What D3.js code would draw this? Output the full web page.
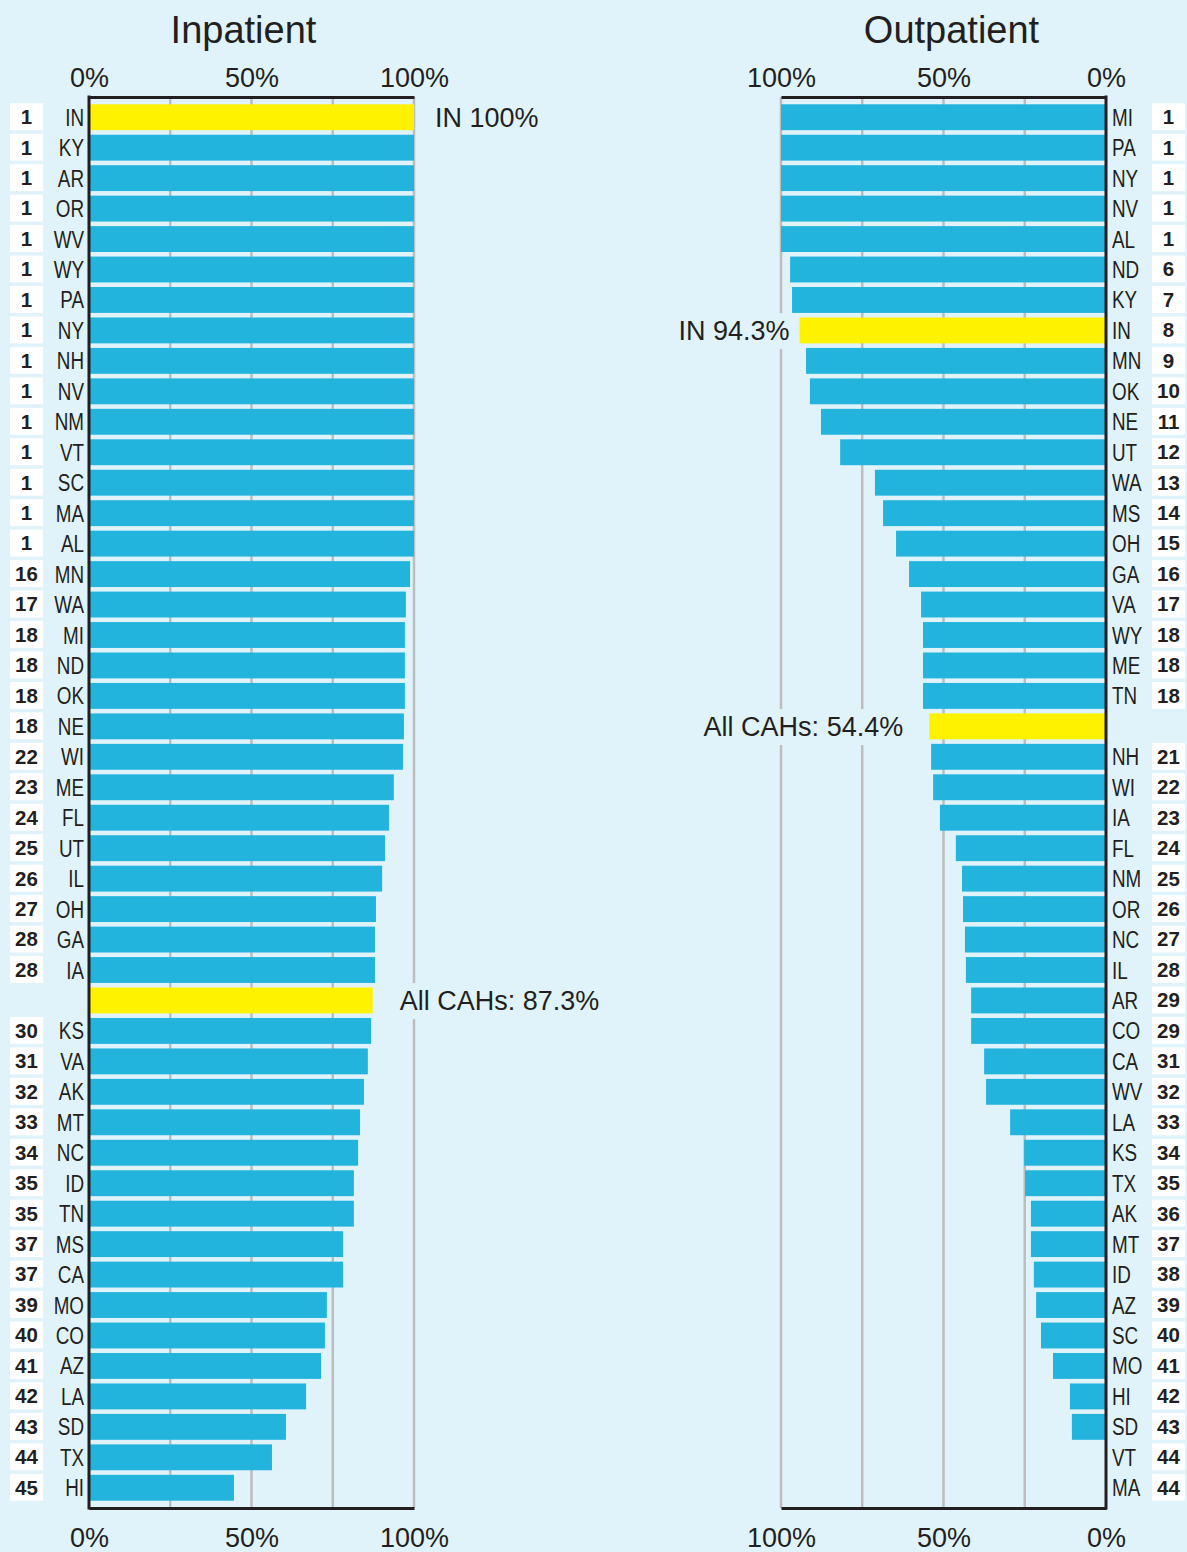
<!DOCTYPE html>
<html>
<head>
<meta charset="utf-8">
<script src="https://cdn.jsdelivr.net/npm/d3@7"></script>
<style>
  html, body { margin: 0; padding: 0; background: #e0f3fa; }
  svg { display: block; }
  .title { font-family: "Liberation Sans", Arial, sans-serif; font-size: 38px; fill: #231f20; }
  .tick text { font-family: "Liberation Sans", Arial, sans-serif; font-size: 27px; fill: #231f20; }
  .state { font-family: "Liberation Sans", Arial, sans-serif; font-size: 23px; fill: #231f20; }
  .rank { font-family: "Liberation Sans", Arial, sans-serif; font-size: 20.5px; font-weight: bold; fill: #231f20; }
  .note { font-family: "Liberation Sans", Arial, sans-serif; font-size: 27px; fill: #231f20; }
</style>
</head>
<body>
<svg width="1187" height="1552"></svg>
<script>
// Inpatient panel
const inStates = [
  "IN", "KY", "AR", "OR", "WV", "WY", "PA", "NY", "NH", "NV", "NM", "VT", "SC", "MA", "AL",
  "MN", "WA", "MI", "ND", "OK", "NE", "WI", "ME", "FL", "UT", "IL", "OH", "GA", "IA",
  "All CAHs",
  "KS", "VA", "AK", "MT", "NC", "ID", "TN", "MS", "CA", "MO", "CO", "AZ", "LA", "SD", "TX", "HI",
];
const inRanks = [
  1, 1, 1, 1, 1, 1, 1, 1, 1, 1, 1, 1, 1, 1, 1,
  16, 17, 18, 18, 18, 18, 22, 23, 24, 25, 26, 27, 28, 28,
  null,
  30, 31, 32, 33, 34, 35, 35, 37, 37, 39, 40, 41, 42, 43, 44, 45,
];
const inValues = [
  100, 100, 100, 100, 100, 100, 100, 100, 100, 100, 100, 100, 100, 100, 100,
  98.8, 97.5, 97.2, 97.2, 97.2, 96.9, 96.6, 93.8, 92.3, 91.1, 90.2, 88.3, 88.0, 88.0,
  87.3,
  86.8, 85.8, 84.6, 83.4, 82.8, 81.5, 81.5, 78.2, 78.2, 73.2, 72.6, 71.4, 66.8, 60.6, 56.3, 44.6,
];
const inHighlight = ["IN", "All CAHs"];
const inNotes = ["IN 100%", "All CAHs: 87.3%"];

// Outpatient panel
const outStates = [
  "MI", "PA", "NY", "NV", "AL", "ND", "KY", "IN", "MN", "OK", "NE", "UT", "WA", "MS", "OH",
  "GA", "VA", "WY", "ME", "TN",
  "All CAHs",
  "NH", "WI", "IA", "FL", "NM", "OR", "NC", "IL", "AR", "CO", "CA", "WV", "LA", "KS", "TX",
  "AK", "MT", "ID", "AZ", "SC", "MO", "HI", "SD", "VT", "MA",
];
const outRanks = [
  1, 1, 1, 1, 1, 6, 7, 8, 9, 10, 11, 12, 13, 14, 15,
  16, 17, 18, 18, 18,
  null,
  21, 22, 23, 24, 25, 26, 27, 28, 29, 29, 31, 32, 33, 34, 35,
  36, 37, 38, 39, 40, 41, 42, 43, 44, 44,
];
const outValues = [
  100, 100, 100, 100, 100, 97.2, 96.6, 94.3, 92.3, 91.1, 87.7, 81.8, 71.1, 68.6, 64.6,
  60.6, 56.9, 56.3, 56.3, 56.3,
  54.4,
  53.8, 53.2, 51.1, 46.2, 44.3, 44.0, 43.4, 43.1, 41.5, 41.5, 37.5, 36.9, 29.5, 25.2, 24.9,
  23.1, 23.1, 22.2, 21.5, 20.0, 16.3, 11.1, 10.5, 0, 0,
];
const outHighlight = ["IN", "All CAHs"];
const outNotes = ["IN 94.3%", "All CAHs: 54.4%"];

const tickLabels = [0, 50, 100];
const gridTicks = [25, 50, 75, 100];

const BLUE = "#23b4de";
const YELLOW = "#fff200";
const BG = "#e0f3fa";
const INK = "#231f20";

const svg = d3.select("svg");
svg.append("rect").attr("width", 1187).attr("height", 1552).attr("fill", BG);

const axisTopY = 97;
const axisBottomY = 1508;

drawPanel({
  title: "Inpatient",
  states: inStates, ranks: inRanks, values: inValues,
  highlight: inHighlight, notes: inNotes,
  xRange: [89, 414], side: "left",
  noteDx: [21, 27],
});

drawPanel({
  title: "Outpatient",
  states: outStates, ranks: outRanks, values: outValues,
  highlight: outHighlight, notes: outNotes,
  xRange: [1106, 781], side: "right",
  noteDx: [10, 26],
});

function drawPanel(p) {
  const rows = p.states.map((s, i) => ({ state: s, rank: p.ranks[i], value: p.values[i] }));
  const x = d3.scaleLinear().domain([0, 100]).range(p.xRange);
  const y = d3.scaleBand().domain(p.states).range([102, 1503]).paddingInner(0.15).paddingOuter(0.075);
  const g = svg.append("g");
  const isLeft = p.side === "left";

  // Title
  g.append("text")
    .attr("class", "title")
    .attr("x", (p.xRange[0] + p.xRange[1]) / 2 + (isLeft ? -8 : 8))
    .attr("y", 43)
    .attr("text-anchor", "middle")
    .text(p.title);

  // Gridlines
  g.append("g")
    .selectAll("line")
    .data(gridTicks)
    .enter()
    .append("line")
    .attr("x1", (d) => x(d))
    .attr("x2", (d) => x(d))
    .attr("y1", axisTopY)
    .attr("y2", axisBottomY)
    .attr("stroke", "#bdbdbd")
    .attr("stroke-width", 2.5);

  // Bars
  g.append("g")
    .selectAll("rect")
    .data(rows)
    .enter()
    .append("rect")
    .attr("x", (d) => Math.min(x(0), x(d.value)))
    .attr("y", (d) => y(d.state))
    .attr("width", (d) => Math.abs(x(d.value) - x(0)))
    .attr("height", y.bandwidth())
    .attr("fill", (d) => (p.highlight.includes(d.state) ? YELLOW : BLUE));

  // Notes beside highlighted bars, on a patch of background that breaks the gridlines
  const notes = g.append("g");
  p.highlight.forEach((h, i) => {
    const d = rows.find((r) => r.state === h);
    const tx = isLeft ? x(d.value) + p.noteDx[i] : x(d.value) - p.noteDx[i];
    const ty = y(h) + y.bandwidth() / 2;
    const patch = notes.append("rect").attr("fill", BG);
    const t = notes.append("text")
      .attr("class", "note")
      .attr("x", tx)
      .attr("y", ty)
      .attr("dy", "0.36em")
      .attr("text-anchor", isLeft ? "start" : "end")
      .text(p.notes[i]);
    const bb = t.node().getBBox();
    patch
      .attr("x", bb.x - 6)
      .attr("y", bb.y - 3)
      .attr("width", bb.width + 12)
      .attr("height", bb.height + 6);
  });

  // State labels (condensed look)
  g.append("g")
    .selectAll("text")
    .data(rows.filter((d) => d.rank !== null))
    .enter()
    .append("text")
    .attr("class", "state")
    .attr("transform", (d) =>
      "translate(" + (isLeft ? 84 : 1112) + "," + (y(d.state) + y.bandwidth() / 2) + ") scale(0.82,1)")
    .attr("dy", "0.37em")
    .attr("text-anchor", isLeft ? "end" : "start")
    .text((d) => d.state);

  // Rank boxes
  const rx = isLeft ? 10 : 1152;
  const rk = g.append("g")
    .selectAll("g")
    .data(rows.filter((d) => d.rank !== null))
    .enter()
    .append("g")
    .attr("transform", (d) => "translate(" + rx + "," + (y(d.state) - 1) + ")");
  rk.append("rect")
    .attr("width", 33)
    .attr("height", y.bandwidth() + 1)
    .attr("fill", "#fff");
  rk.append("text")
    .attr("class", "rank")
    .attr("x", 16.5)
    .attr("y", (y.bandwidth() + 1) / 2)
    .attr("dy", "0.36em")
    .attr("text-anchor", "middle")
    .text((d) => d.rank);

  // Axes
  g.append("g")
    .attr("transform", "translate(0," + axisTopY + ")")
    .call(d3.axisTop(x).tickValues(tickLabels).tickSize(0).tickPadding(10).tickFormat((d) => d + "%"))
    .call((a) => a.select(".domain").attr("stroke", INK).attr("stroke-width", 3));
  g.append("g")
    .attr("transform", "translate(0," + axisBottomY + ")")
    .call(d3.axisBottom(x).tickValues(tickLabels).tickSize(0).tickPadding(20).tickFormat((d) => d + "%"))
    .call((a) => a.select(".domain").attr("stroke", INK).attr("stroke-width", 3));
  g.selectAll(".tick text").attr("font-size", null).attr("font-family", null).attr("fill", INK);

  g.append("line")
    .attr("x1", x(0))
    .attr("x2", x(0))
    .attr("y1", axisTopY - 1.5)
    .attr("y2", axisBottomY + 1.5)
    .attr("stroke", INK)
    .attr("stroke-width", 3);
}
</script>
</body>
</html>
